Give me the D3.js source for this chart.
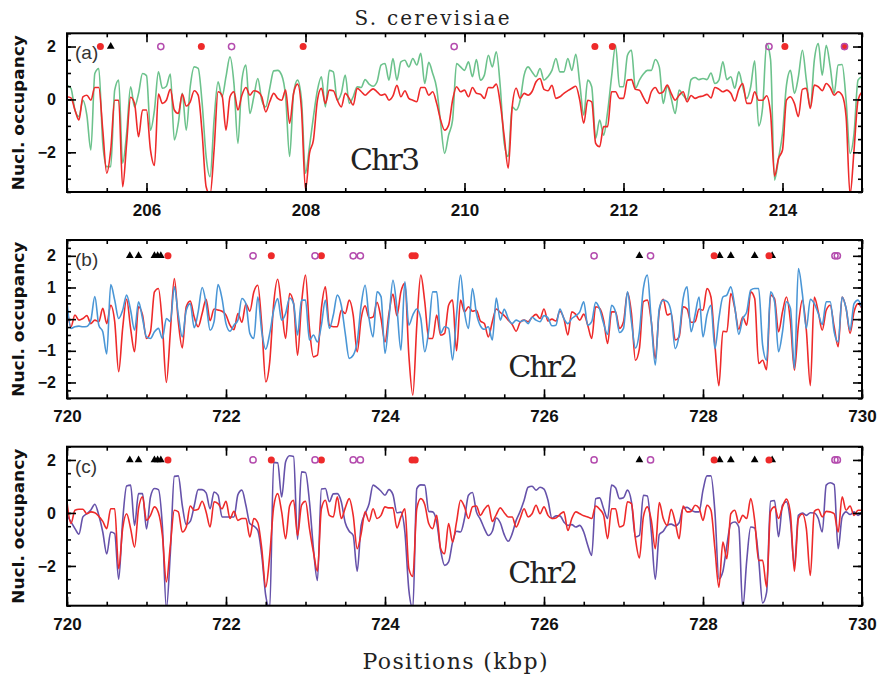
<!DOCTYPE html>
<html><head><meta charset="utf-8">
<script src="https://cdn.jsdelivr.net/npm/d3@7"></script>
<style>body{margin:0;background:#fff;}svg{display:block;}</style>
</head><body>
<svg id="chart" width="879" height="680"></svg>
<script>
const STEP = 0.05;
const aStart = 205, bcStart = 720;

const aRed = [0.1,0.06,-0.4,-0.78,0.1,0.16,-0.03,0.45,0.45,-1.16,
-2.79,-1.91,-0.03,-0.03,-3.3,-1.66,0.08,-0.15,-1.41,-0.4,
-0.4,-1.91,-2.5,0.2,-0.15,-0.03,0.38,-0.4,-0.53,0.2,
-0.25,-0.09,0.33,0.16,-1.28,-3.3,-3.6,-1.91,0.29,0.16,
-1.16,0.1,0.29,-0.4,0.16,0.45,0.16,0.33,0.29,0.1,
-0.47,-0.09,0.23,0.04,-0.03,0.35,-0.9,0.23,0.58,-0.4,
-3.42,-2.04,-1.53,-0.03,0.42,-0.15,0.35,0.33,-0.03,-0.28,
0.23,0.04,-0.21,0.42,0.3,0.16,0.29,0.4,0.29,0.16,
0.2,-0.03,0.13,0.53,0.1,0.33,0.04,-0.03,-0.09,0.45,
0.45,0.16,0.29,-0.15,-0.78,-1.16,-0.97,-0.03,0.48,0.29,
0.35,0.1,0.45,0.23,0.2,0.04,0.45,0.44,0.58,-0.15,
-1.41,-2.6,-0.28,0.42,0.04,0.23,0.16,0.3,0.67,0.79,
0.38,0.33,0.53,0.04,0.1,0.23,0.33,0.42,0.5,-0.03,
-0.9,-0.03,-0.09,-1.66,-1.79,-1.03,-1.03,0.29,0.29,0.04,
0.04,0.73,0.75,0.38,0.35,0.08,-0.15,0.29,0.45,0.23,
0.29,0.54,0.23,-0.03,0.16,0.29,-0.09,0.15,0.04,0.1,
0.13,0.19,0.06,0.45,0.39,0.29,0.35,0.23,-0.06,0.38,
0.6,-0.15,-0.15,0.29,-0.03,-0.03,0.14,-0.53,-2.9,-2.23,
-1.91,-0.03,0.1,-0.15,-0.65,0.38,0.42,-0.34,0.54,0.48,
0.33,0.6,0.45,0.16,0.29,0.16,-0.65,-3.6,-1.91,-0.03,
0.29];

const aGreen = [0.54,0.42,-0.4,-0.65,-0.03,-0.6,-1.91,0.98,1.17,-1.66,
-2.54,-2.54,0.35,0.73,-2.41,-1.28,0.48,-0.28,0.23,0.98,
0.9,-1.16,-0.4,1.04,0.42,0.5,0.96,-1.53,-0.9,0.23,
-1.16,0.48,1.23,1.17,-0.15,-2.16,-2.92,-0.78,0.67,0.1,
0.86,1.61,0.6,-1.66,0.73,1.3,-0.53,0.1,0.79,-0.03,
-0.28,0.42,1.08,1.1,0.92,0.1,-2.16,0.23,0.73,-0.03,
-2.79,-1.79,-0.65,0.35,0.86,-0.28,1.1,1.04,-0.03,0.23,
0.92,-0.15,0.1,0.48,0.45,0.75,0.58,0.5,0.67,1.3,
1.36,0.73,1.55,0.73,1.42,1.48,1.23,1.55,1.3,1.74,
0.6,1.4,0.98,0.42,-0.9,-2.04,-1.35,-0.78,1.36,1.23,
1.1,1.42,0.86,1.51,0.73,0.92,1.67,1.23,1.8,0.48,
-1.66,-2.16,-0.28,-0.4,-0.03,0.92,1.23,1.04,0.86,1.17,
0.73,0.86,1.1,1.55,1.04,1.04,1.55,1.1,1.71,0.6,
-0.59,0.73,0.48,-1.47,-0.78,-1.35,-0.47,0.86,2.05,0.48,
0.48,1.67,1.86,0.42,0.73,0.96,1.1,1.1,1.51,1.23,
-0.15,0.5,0.04,-0.53,0.35,0.16,0,0.75,0.83,0.75,
0.79,0.75,1.0,0.6,0.73,1.42,0.75,0.86,0.42,1.04,
0.48,0.04,0.48,1.46,-1.0,-0.3,2.11,1.5,-3.05,-2.23,
-1.28,0.54,1.1,0.23,0.86,1.86,0.73,-0.28,1.48,2.11,
0.92,2.05,1.23,0.23,1.3,1.32,-0.03,-2.04,-1.28,0.73,
0.86];

const bRed = [0.34,-0.24,0.13,-0.03,0.02,0.11,-0.14,-0.03,-0.08,0.34,
-0.14,0.44,-0.08,-1.66,-0.29,0.63,-0.29,-1.03,0.39,0.13,
-0.61,-0.4,0.86,0.97,-0.19,-2.0,-0.4,1.28,-0.08,-0.91,
0.39,0.57,0.07,-0.24,0.18,0.63,-0.05,0.32,0.29,0.25,
0.13,-0.19,-0.33,0.18,-0.1,0.48,0.25,0.86,1.07,-0.19,
-1.98,-1.35,0.49,1.26,0.34,-0.61,0.81,0.5,-1.14,0.49,
1.39,-0.29,-1.19,-1.14,0.34,1.02,-0.19,-0.24,-0.24,0.28,
0.18,0.6,0.13,-1.03,0.02,0.42,0.04,0.07,0.53,0.02,
-0.72,0.18,0.79,0.11,0.86,1.13,-1.14,-2.4,-0.19,1.39,
0.55,-0.61,-0.61,0.13,-0.51,-0.45,0.44,0.6,-1.0,0.6,
0.23,0.39,0.25,0.28,-0.06,-0.14,-0.56,-0.08,0.32,0.21,
0.11,-0.03,-0.17,-0.38,-0.1,-0.03,-0.08,0.06,0.15,0.02,
0.32,-0.06,0,-0.06,0.25,0.02,-0.5,0.23,0.15,-0.03,
0.16,-0.19,-0.61,0.39,0.34,-0.03,-0.77,0.23,0.23,-0.29,
-0.08,0.84,0.18,-1.3,-0.93,0.55,0.6,-0.08,-1.24,0.25,
0.63,0.13,0.18,-0.66,-0.56,0.39,0.32,-0.1,-0.08,0.32,
0.28,0.97,0.7,-0.82,-2.1,-0.38,-0.4,0.81,0.34,-0.32,
0.07,-0.19,0.86,0.65,-1.4,-1.3,-1.6,0.76,0.65,-0.4,
0.23,0.7,-0.08,-1.61,-0.19,0.6,-0.35,-2.1,0.7,0.23,
-0.35,0.28,0.44,-0.24,-0.87,0.7,0.34,-0.45,0.23,0.49,
0.34];

const bBlue = [0.55,-0.29,-0.24,-0.22,-0.24,-0.23,-0.03,0.71,-0.19,-0.4,
-1.1,1.09,0.6,0.02,0.28,0.76,0.28,-0.35,0.55,0.02,
-0.56,-0.61,-0.4,-0.29,-0.61,0.02,-0.08,1.02,0.13,-0.56,
0.28,0.49,-0.27,0.23,1.0,0.49,-0.35,-0.08,1.09,0.65,
-0.14,-0.38,-0.19,-0.03,0.65,0.49,-0.45,-0.61,0.7,-0.4,
-0.95,-0.45,0.28,0.65,-0.03,0.18,0.67,0.49,-0.5,0.6,
0.6,-0.66,-0.5,-0.72,-0.19,0.6,-0.29,0.13,0.76,0.44,
-0.45,-1.24,-1.14,-0.72,0.44,1.07,0.02,-0.56,0.86,0.71,
-1.08,0.02,1.23,0.34,-0.98,1.18,-0.19,0.13,0.32,0.02,
-1.03,-0.35,0.86,0.86,-0.45,-0.24,-0.29,-1.29,0.13,1.39,
0.23,-0.29,0.97,0.18,-0.21,-0.32,-0.24,-0.66,0.67,-0.03,
0.31,0.02,-0.14,-0.03,-0.08,-0.03,-0.14,0.06,-0.03,-0.08,
0.11,0.04,-0.21,-0.19,0.32,0.02,-0.14,0.02,0.11,0.23,
0.55,-0.19,-0.08,0.53,0.32,-0.14,-0.48,0.44,0.23,-0.42,
-0.29,0.86,-0.08,-0.91,-0.4,0.97,1.39,-0.08,-1.45,0.34,
0.6,0.55,0.21,-0.93,-0.5,0.65,1.02,-0.4,0.13,0.7,
-0.56,0.13,0.44,-0.93,0.02,0.7,0.76,1.02,0.39,-0.48,
0.02,0.23,0.92,0.97,0.97,-0.82,-1.3,0.86,0.55,-1.03,
-0.4,0.55,0.34,-1.56,1.6,0.8,-0.29,0.63,0.49,0.18,
-0.17,0.55,0.55,-0.4,-0.72,0.7,0.34,-0.35,0.49,0.6,
0.34];

const cRed = [0.42,-0.4,0.1,0.14,0.14,-0.03,0.04,0.01,-0.13,-0.32,
-0.59,0.16,0.16,-2.1,-0.59,-0.03,-0.59,-1.29,0.16,0.61,
-0.28,-0.09,0.23,0.01,-0.85,-2.6,-1.22,0.1,0.04,-0.72,
-0.53,0.26,0.1,0.14,0.44,0.04,-0.53,0.42,0.35,0.16,
0.44,-0.21,0.06,-0.28,-0.21,-0.21,-0.91,-0.21,-0.37,-1.35,
-2.8,-1.6,0.23,0.73,0.04,-0.97,0.26,0.48,-0.85,0.29,
0.44,-0.59,-1.48,-2.2,0.16,0.48,-0.09,-0.15,0.61,-0.21,
0.19,0.54,-0.09,-1.35,-0.78,0.04,-0.32,0.16,-0.21,-0.09,
0.23,0.19,0.19,-0.57,-0.15,0.16,-2.1,-2.4,0.16,0.54,
0.32,-0.4,-0.59,-0.09,-1.35,-1.54,-0.4,-1.1,-0.34,0.48,
0.23,-0.21,0.23,0.26,-0.09,0.14,0.29,-0.32,-0.06,0.19,
0.01,-0.15,-0.15,-0.53,-0.21,0.16,-0.15,-0.03,0.29,-0.03,
0.23,-0.09,-0.21,-0.19,-0.05,0.04,-0.66,-0.21,0.04,-0.03,
-0.11,-0.15,-0.21,0.26,0.14,-0.09,-0.97,0.16,0.16,-0.53,
-0.47,0.42,0.35,-0.97,-1.7,-0.15,0.23,-0.28,-1.35,0.39,
-0.21,-0.47,0.14,-0.34,-0.97,0.26,0.04,0.06,0.29,0.19,
-0.28,0.29,0.1,-1.35,-2.8,-1.1,-1.73,-0.03,0.1,-0.37,
-0.09,-0.21,0.54,-0.28,-1.79,-1.79,-2.8,0.06,0.23,-0.21,
0.23,0.52,-0.03,-2.2,-0.21,-0.04,-0.59,-2.36,0.06,0.14,
-0.15,0.06,0.04,-0.03,-0.72,0.61,0.1,0.26,-0.09,0.1,
0.1];

const cPurple = [-0.09,-0.34,-0.59,-0.8,-0.15,-0.03,0.11,0.33,-0.09,-0.72,
-1.55,-0.72,-0.78,-2.5,-0.3,1.02,1.05,-0.47,0.73,0.73,
-0.6,0.6,0.92,0.88,-0.5,-3.6,-1.5,1.38,1.4,0.29,
-0.44,-0.32,0.26,0.88,0.88,0.76,0.16,0.79,0.67,-0.15,
-0.15,-0.15,-0.15,0.69,0.86,0.29,-0.4,-0.5,-0.66,-1.6,
-3.12,-3.6,1.91,1.89,0.6,1.93,2.16,2.13,-1.0,1.55,
1.53,0.42,-1.35,-2.55,0.9,0.92,0.42,0.72,0.73,0.42,
-0.37,-0.69,-0.85,-2.2,-0.47,-0.03,0.35,1.05,0.96,0.82,
0.67,0.88,0.69,0.01,0.03,-0.72,-2.9,-3.6,0.92,1.06,
1.05,0.06,0.04,-0.34,-1.41,-1.98,-1.85,-1.1,-0.69,-0.72,
-0.21,0.67,0.77,0.04,-0.24,-0.59,-0.85,-0.69,-0.19,-0.37,
-0.82,-1.07,-0.78,-0.28,0.06,0.48,0.97,1.01,0.86,0.97,
0.9,0.48,-0.21,-0.11,-0.11,-0.34,-0.47,-0.44,-0.53,-0.47,
-0.72,-1.22,-1.6,0.54,0.57,0.16,-0.21,1.05,0.95,0.54,
0.57,0.86,0.42,-0.91,-0.85,0.67,0.64,-0.72,-2.5,-0.82,
-0.69,-0.47,-0.42,-0.49,-0.37,0.19,0.21,0.11,0.04,0.04,
0.86,1.4,1.4,0.04,-2.49,-2.21,-1.22,-0.4,-0.34,-0.53,
-3.6,-1.8,-0.53,-0.57,-1.73,-3.4,-3.0,0.44,0.47,-0.9,
0.29,0.42,-0.34,-2.0,-0.09,0,-0.09,0.01,0,-0.21,
-0.72,1.05,1.14,1.07,-1.35,-0.15,0.04,-0.06,0.04,-0.09,
0.04];

// markers drawn at occupancy = 2 (positions in kbp)
const aRedDots   = [205.42, 206.69, 207.97, 211.64, 211.86, 214.03, 214.78];
const aOpenDots  = [206.18, 207.07, 209.87, 213.83, 214.78];
const aTriangles = [205.55];
const bcTriangles = [720.79, 720.90, 721.10, 721.14, 721.18, 727.20, 728.21, 728.35, 728.65, 728.87];
const bcRedDots   = [721.27, 722.57, 723.20, 724.34, 724.38, 728.14, 728.83];
const bcOpenDots  = [722.34, 723.12, 723.60, 723.69, 726.63, 727.34, 729.66, 729.69];
const MARK_Y = 2;

const aXTicks = [206, 208, 210, 212, 214];
const bcXTicks = [720, 722, 724, 726, 728, 730];
const aYTicks = [-2, 0, 2];
const bYTicks = [-2, -1, 0, 1, 2];
const cYTicks = [-2, 0, 2];

// ---------- styles ----------
const RED = '#ee2a2a', GREEN = '#6cc28c', BLUE = '#4a96d6', PURPLE = '#6652aa', MAGENTA = '#b44cae';
const X0 = 67, X1 = 862;

const panels = [
  {tag:'(a)', top:33.3, bottom:192, start:aStart, xDomain:[205,215], yDomain:[-3.5,2.5],
   xTicks:aXTicks, yTicks:aYTicks, yMinor:0.5, chr:'Chr3', chrAt:[208.56,-2.67],
   series:[[aGreen,GREEN],[aRed,RED]], tri:aTriangles, red:aRedDots, open:aOpenDots},
  {tag:'(b)', top:240, bottom:398.3, start:bcStart, xDomain:[720,730], yDomain:[-2.5,2.5],
   xTicks:bcXTicks, yTicks:bYTicks, yMinor:0.25, chr:'Chr2', chrAt:[725.55,-1.83],
   series:[[bRed,RED],[bBlue,BLUE]], tri:bcTriangles, red:bcRedDots, open:bcOpenDots},
  {tag:'(c)', top:446.7, bottom:605.7, start:bcStart, xDomain:[720,730], yDomain:[-3.5,2.5],
   xTicks:bcXTicks, yTicks:cYTicks, yMinor:0.5, chr:'Chr2', chrAt:[725.55,-2.66],
   series:[[cPurple,PURPLE],[cRed,RED]], tri:bcTriangles, red:bcRedDots, open:bcOpenDots}
];

const svg = d3.select('#chart');
const SANS = '"Liberation Sans", Arial, sans-serif';
const SERIF = '"DejaVu Serif", serif';

svg.append('text').attr('x', 432).attr('y', 25).attr('text-anchor','middle')
  .attr('font-family', SERIF).attr('font-size', 20).attr('textLength', 155).attr('lengthAdjust','spacing')
  .attr('fill','#222').text('S. cerevisiae');

svg.append('text').attr('x', 455).attr('y', 669).attr('text-anchor','middle')
  .attr('font-family', SERIF).attr('font-size', 22).attr('textLength', 185).attr('lengthAdjust','spacing')
  .attr('fill','#222').text('Positions (kbp)');

panels.forEach((p, k) => {
  const x = d3.scaleLinear().domain(p.xDomain).range([X0, X1]);
  const y = d3.scaleLinear().domain(p.yDomain).range([p.bottom, p.top]);
  const g = svg.append('g');
  const clipId = 'clip' + k;
  svg.append('clipPath').attr('id', clipId).append('rect')
    .attr('x', X0).attr('y', p.top).attr('width', X1 - X0).attr('height', p.bottom - p.top);

  // lines
  const line = d3.line().curve(d3.curveMonotoneX)
    .x((d, i) => x(p.start + i * STEP)).y(d => y(d));
  const lg = g.append('g').attr('clip-path', `url(#${clipId})`);
  p.series.forEach(([vals, col]) => {
    lg.append('path').datum(vals).attr('d', line).attr('fill','none')
      .attr('stroke', col).attr('stroke-width', 1.6).attr('stroke-linejoin','round');
  });

  // axes (ticks pointing inward)
  const xMinor = d3.range(p.xDomain[0], p.xDomain[1] + 1e-6, 0.5);
  const yMinor = d3.range(p.yDomain[0], p.yDomain[1] + 1e-6, p.yMinor);
  const styleAxis = sel => { sel.select('.domain').remove(); sel.selectAll('line').attr('stroke','#000').attr('stroke-width',1.6); };

  g.append('g').attr('transform', `translate(0,${p.bottom})`)
    .call(d3.axisBottom(x).tickValues(xMinor).tickSize(-4).tickFormat('')).call(styleAxis);
  g.append('g').attr('transform', `translate(0,${p.top})`)
    .call(d3.axisTop(x).tickValues(xMinor).tickSize(-4).tickFormat('')).call(styleAxis);
  g.append('g').attr('transform', `translate(0,${p.bottom})`)
    .call(d3.axisBottom(x).tickValues(p.xTicks).tickSize(-9).tickPadding(12).tickFormat(d3.format('d')))
    .call(styleAxis)
    .call(s => s.selectAll('text').attr('font-family', SANS).attr('font-weight','bold').attr('font-size', 17).attr('fill','#111'));
  g.append('g').attr('transform', `translate(0,${p.top})`)
    .call(d3.axisTop(x).tickValues(p.xTicks).tickSize(-9).tickFormat('')).call(styleAxis);

  g.append('g').attr('transform', `translate(${X0},0)`)
    .call(d3.axisLeft(y).tickValues(yMinor).tickSize(-4).tickFormat('')).call(styleAxis);
  g.append('g').attr('transform', `translate(${X1},0)`)
    .call(d3.axisRight(y).tickValues(yMinor).tickSize(-4).tickFormat('')).call(styleAxis);
  g.append('g').attr('transform', `translate(${X0},0)`)
    .call(d3.axisLeft(y).tickValues(p.yTicks).tickSize(-9).tickPadding(11).tickFormat(d3.format('d')))
    .call(styleAxis)
    .call(s => s.selectAll('text').attr('font-family', SANS).attr('font-weight','bold').attr('font-size', 16).attr('fill','#111'));
  g.append('g').attr('transform', `translate(${X1},0)`)
    .call(d3.axisRight(y).tickValues(p.yTicks).tickSize(-9).tickFormat('')).call(styleAxis);

  // frame
  g.append('rect').attr('x', X0).attr('y', p.top).attr('width', X1 - X0).attr('height', p.bottom - p.top)
    .attr('fill','none').attr('stroke','#000').attr('stroke-width', 2);

  // y label
  g.append('text').attr('transform', `translate(24,${(p.top + p.bottom) / 2}) rotate(-90)`)
    .attr('text-anchor','middle').attr('font-family','"DejaVu Sans", sans-serif').attr('font-weight','bold')
    .attr('font-size', 15).attr('textLength', 155).attr('lengthAdjust','spacingAndGlyphs')
    .attr('fill','#111').text('Nucl. occupancy');

  // panel tag
  g.append('text').attr('x', 75).attr('y', p.top + 26).attr('font-family', SANS)
    .attr('font-size', 19).attr('fill','#333').text(p.tag);

  // chromosome label
  g.append('text').attr('x', x(p.chrAt[0])).attr('y', y(p.chrAt[1]))
    .attr('font-family', SERIF).attr('font-size', 30).attr('textLength', 70).attr('lengthAdjust','spacing')
    .attr('fill','#222').text(p.chr);

  // markers
  const my = y(MARK_Y);
  const tri = d3.symbol().type(d3.symbolTriangle).size(26);
  g.selectAll('path.tri').data(p.tri).join('path').attr('class','tri')
    .attr('transform', d => `translate(${x(d)},${my})`).attr('d', tri).attr('fill','#000');
  g.selectAll('circle.red').data(p.red).join('circle').attr('class','red')
    .attr('cx', d => x(d)).attr('cy', my).attr('r', 3.5).attr('fill', RED);
  g.selectAll('circle.open').data(p.open).join('circle').attr('class','open')
    .attr('cx', d => x(d)).attr('cy', my).attr('r', 3.1).attr('fill','none')
    .attr('stroke', MAGENTA).attr('stroke-width', 1.5);
});

// sanity check of series lengths
[aRed, aGreen, bRed, bBlue, cRed, cPurple].forEach((s, i) => {
  if (s.length !== 201) throw new Error('series ' + i + ' has ' + s.length + ' values');
});
</script>
</body></html>
